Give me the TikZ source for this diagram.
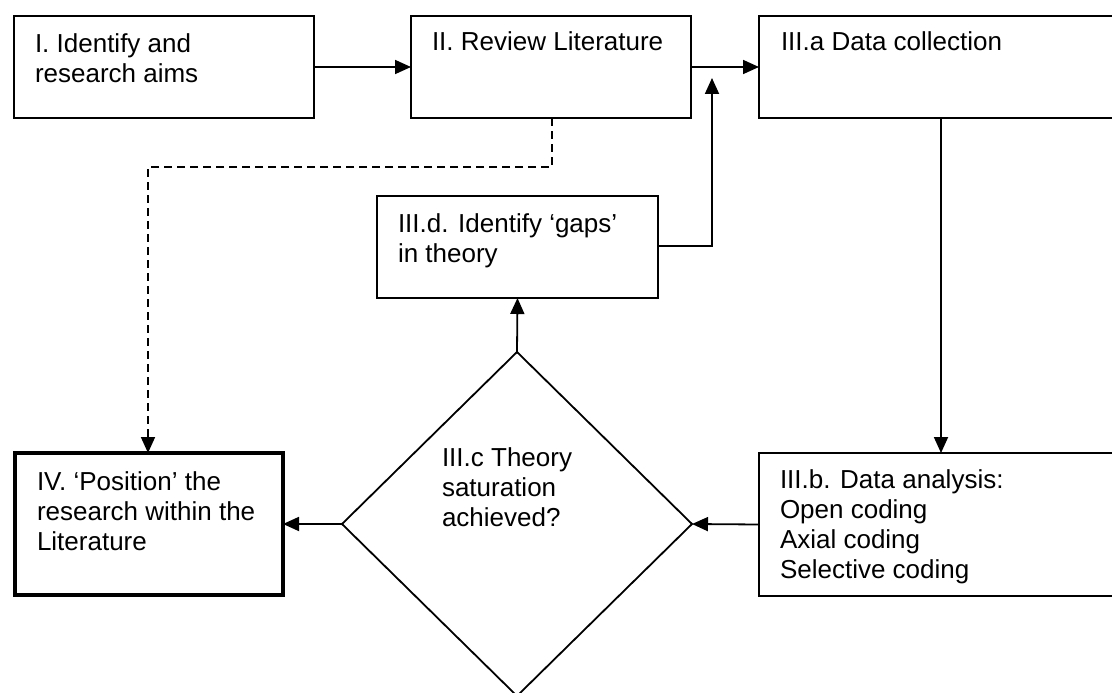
\documentclass[tikz,border=0pt]{standalone}
\usepackage{fontspec}
\setmainfont{Liberation Sans}
\usetikzlibrary{arrows.meta,shapes.geometric}
\begin{document}
\begin{tikzpicture}[x=1pt,y=-1pt,
  box/.style={draw,line width=1.8pt,rectangle,inner sep=0pt,outer sep=0pt},
  lbl/.style={anchor=north west,inner sep=0pt,outer sep=0pt,align=left,
    font=\fontsize{26}{30}\selectfont},
  conn/.style={line width=1.8pt,-{Triangle[length=16pt,width=14pt]}},
  dconn/.style={conn,dash pattern=on 8pt off 5pt}]
\useasboundingbox (0,0) rectangle (1112,693);
\clip (0,0) rectangle (1112,693);
% boxes
\node[box,minimum width=300pt,minimum height=102pt] (b1) at (164,67) {};
\node[box,minimum width=280pt,minimum height=102pt] (b2) at (551,67) {};
\node[box,minimum width=361pt,minimum height=102pt] (b3a) at (939.5,67) {};
\node[box,minimum width=281pt,minimum height=102pt] (b3d) at (517.5,247) {};
\node[box,line width=4.5pt,minimum width=268pt,minimum height=142pt] (b4) at (149,524) {};
\node[box,minimum width=361pt,minimum height=143pt] (b3b) at (939.5,524.5) {};
\node[draw,line width=1.8pt,diamond,inner sep=0pt,outer sep=0pt,
  minimum width=350pt,minimum height=344pt] (d) at (517,524) {};
% texts
\node[lbl] (t1) at (35,32) {\rule{0pt}{20pt}I. Identify and\\research aims};
\node[lbl] (t2) at (432,31) {\rule{0pt}{20pt}II. Review Literature};
\node[lbl] (t3a) at (781,31) {\rule{0pt}{20pt}III.a Data collection};
\node[lbl] (t3d) at (398,212) {\rule{0pt}{20pt}III.d. Identify ‘gaps’\\in theory};
\node[lbl] (t4) at (37,470) {\rule{0pt}{20pt}IV. ‘Position’ the\\research within the\\Literature};
\node[lbl] (t3b) at (780,468) {\rule{0pt}{20pt}III.b. Data analysis:\\Open coding\\Axial coding\\Selective coding};
\node[lbl] (t3c) at (442,446) {\rule{0pt}{20pt}III.c Theory\\saturation\\achieved?};
% coordinates
\coordinate (up) at (712,78);
\coordinate (dashturn) at (148,167);
% connectors
\draw[conn] (b1.east) -- (b2.west);
\draw[conn] (b2.east) -- (b3a.west);
\draw[conn] (b3d.east |- 0,246) -| (up);
\draw[conn] (b3a.south -| 941,0) -- (b3b.north -| 941,0);
\draw[conn] (b3b.west) -- (d.east);
\draw[conn] (d.west) -- (b4.east);
\draw[conn] (d.north) -- (b3d.south);
\draw[dconn] (b2.south -| 552,0) -- (552,167) -- (dashturn) -- (b4.north -| 148,0);
\end{tikzpicture}
\end{document}
